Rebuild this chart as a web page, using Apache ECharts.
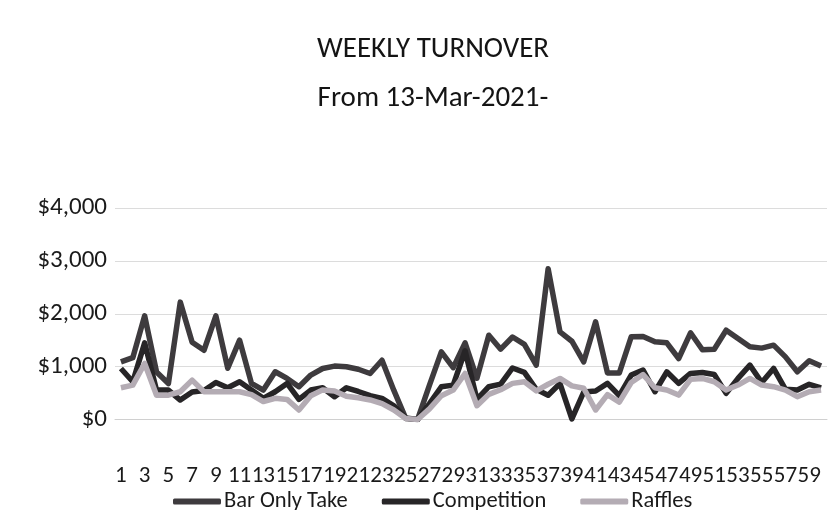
<!DOCTYPE html>
<html>
<head>
<meta charset="utf-8">
<script src="https://cdn.jsdelivr.net/npm/echarts@6/dist/echarts.min.js"></script>
<style>
html,body{margin:0;padding:0;background:#fff;}
#chart{width:839px;height:510px;}
</style>
</head>
<body>
<div id="chart"></div>
<script>
var categories = ['1','2','3','4','5','6','7','8','9','10','11','12','13','14','15','16','17','18','19','20',
  '21','22','23','24','25','26','27','28','29','30','31','32','33','34','35','36','37','38','39','40',
  '41','42','43','44','45','46','47','48','49','50','51','52','53','54','55','56','57','58','59','60'];

var barOnlyTake = [1090,1170,1960,900,680,2220,1460,1310,1960,970,1500,683,557,903,777,620,840,965,1010,997,
  950,870,1120,550,20,0,650,1280,980,1450,780,1594,1330,1560,1420,1030,2850,1657,1480,1091,
  1846,880,880,1563,1570,1469,1450,1154,1640,1320,1330,1689,1531,1374,1350,1406,1185,902,1110,1010];

var competition = [965,714,1450,557,557,368,520,550,700,600,714,557,400,525,683,380,557,600,430,600,
  530,450,400,260,30,0,300,620,650,1300,380,620,670,975,890,570,460,680,10,520,
  540,683,450,840,934,525,902,683,871,890,850,494,777,1028,700,966,570,557,665,600];

var raffles = [600,650,1060,460,460,525,745,525,525,525,525,470,340,400,380,180,450,560,540,440,
  410,370,300,180,20,0,200,450,557,870,260,475,563,683,714,540,667,777,635,590,
  180,470,330,700,850,600,557,462,760,777,714,557,651,777,651,620,557,431,525,557];

var yTicks = [0, 1000, 2000, 3000, 4000];
var titleLines = ['WEEKLY TURNOVER', 'From 13-Mar-2021-'];

var FONT = "Carlito, 'Liberation Sans Narrow', 'Open Sans', sans-serif";
var chart = echarts.init(document.getElementById('chart'), null, {renderer:'canvas'});
chart.setOption({
  backgroundColor: '#ffffff',
  animation: false,
  graphic: [{
    type: 'text', x: 433, y: 25,
    style: { text: titleLines.join('\n'), textAlign: 'center', textVerticalAlign: 'top', fill: '#141414',
      font: '29px ' + FONT, lineHeight: 49 }
  }],
  grid: { left: 115, right: 12, top: 208, bottom: 90.5 },
  legend: {
    data: ['Bar Only Take', 'Competition', 'Raffles'],
    top: 485, left: 168,
    itemWidth: 48, itemHeight: 6, itemGap: 34,
    icon: 'roundRect',
    textStyle: { fontFamily: FONT, fontSize: 22.5, color: '#1a1a1a', padding: [0,0,0,-2] }
  },
  xAxis: {
    type: 'category', data: categories, boundaryGap: true,
    axisLine: { show: true, lineStyle: { color: '#d0d0d0', width: 1 } },
    axisTick: { show: false },
    axisLabel: { interval: 1, margin: 45, fontFamily: FONT, fontSize: 23, color: '#1a1a1a', hideOverlap: false }
  },
  yAxis: {
    type: 'value', min: yTicks[0], max: yTicks[yTicks.length-1], interval: 1000,
    axisLine: { show: false }, axisTick: { show: false },
    splitLine: { lineStyle: { color: '#dcdcdc', width: 1 } },
    axisLabel: { margin: 8, fontFamily: FONT, fontSize: 25, color: '#1a1a1a',
      formatter: function (v) { return '$' + v.toLocaleString('en-US'); } }
  },
  series: [
    { name: 'Bar Only Take', type: 'line', data: barOnlyTake, symbol: 'none',
      lineStyle: { width: 5.5, color: '#3e3b3e', join: 'round' }, itemStyle: { color: '#3e3b3e' } },
    { name: 'Competition', type: 'line', data: competition, symbol: 'none',
      lineStyle: { width: 5.5, color: '#272527', join: 'round' }, itemStyle: { color: '#272527' } },
    { name: 'Raffles', type: 'line', data: raffles, symbol: 'none',
      lineStyle: { width: 5.5, color: '#b4acb4', join: 'round' }, itemStyle: { color: '#b4acb4' } }
  ]
});
</script>
</body>
</html>
